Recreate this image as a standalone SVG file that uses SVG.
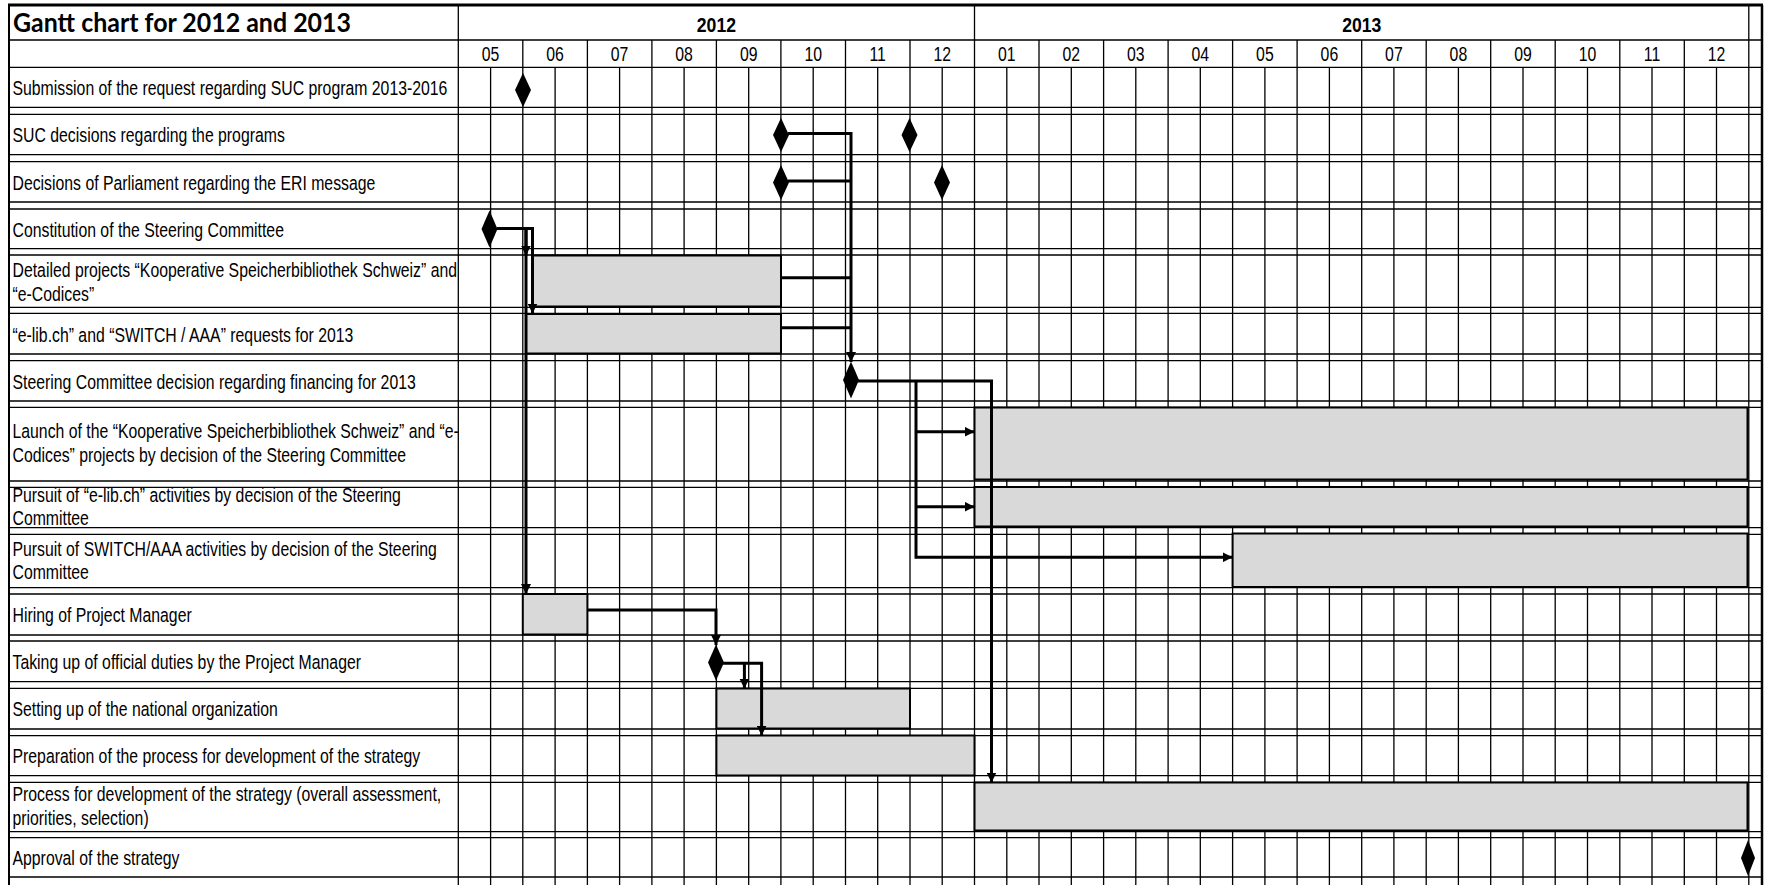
<svg xmlns="http://www.w3.org/2000/svg" width="1767" height="885" viewBox="0 0 1767 885">
<style>
.bg{fill:#fff}
.thin{fill:none;stroke:#000;stroke-width:1.3}
.border{fill:none;stroke:#000}
.t{font-family:"Liberation Sans",Arial,sans-serif;font-size:19.3px;fill:#000}
.m{font-family:"Liberation Sans",Arial,sans-serif;font-size:19.3px;fill:#000;text-anchor:middle}
.yr{font-family:"Liberation Sans",Arial,sans-serif;font-size:20px;font-weight:bold;fill:#000;text-anchor:middle}
.title{font-family:Lato,"Liberation Sans",sans-serif;font-size:26.5px;font-weight:bold;fill:#000}
.bar{fill:#d9d9d9;stroke:#000;stroke-width:2}
.ms{fill:#000}
.conn{fill:none;stroke:#000;stroke-width:3}
.arr{marker-end:url(#ah)}
</style>
<defs>
<marker id="ah" viewBox="0 0 10 10" refX="10" refY="5" markerWidth="10" markerHeight="10" markerUnits="userSpaceOnUse" orient="auto"><path d="M0,0 L10,5 L0,10 z" fill="#000"/></marker>
</defs>
<rect class="bg" x="0" y="0" width="1767" height="885"/>
<g id="grid">
<path class="thin" d="M490.6 67.3V885M555.1 67.3V885M619.6 67.3V885M684.1 67.3V885M748.7 67.3V885M813.2 67.3V885M877.7 67.3V885M942.2 67.3V885M1006.8 67.3V885M1071.3 67.3V885M1135.8 67.3V885M1200.3 67.3V885M1264.9 67.3V885M1329.4 67.3V885M1393.9 67.3V885M1458.4 67.3V885M1523 67.3V885M1587.5 67.3V885M1652 67.3V885M1716.5 67.3V885"/>
<path class="thin" d="M522.8 40V885M587.4 40V885M651.9 40V885M716.4 40V885M780.9 40V885M845.5 40V885M910 40V885M1039 40V885M1103.6 40V885M1168.1 40V885M1232.6 40V885M1297.1 40V885M1361.7 40V885M1426.2 40V885M1490.7 40V885M1555.2 40V885M1619.8 40V885M1684.3 40V885"/>
<path class="thin" d="M458.3 5V885M974.5 5V885M1748.8 5V885"/>
<path class="thin" d="M9 40H1762M9 67.3H1762M9 107.3H1762M9 114.3H1762M9 154.7H1762M9 161.7H1762M9 202H1762M9 209H1762M9 248.7H1762M9 255H1762M9 307.3H1762M9 313.3H1762M9 354H1762M9 360.7H1762M9 401H1762M9 407.3H1762M9 481H1762M9 487.3H1762M9 527.7H1762M9 534.3H1762M9 587.7H1762M9 594H1762M9 635H1762M9 641H1762M9 681.7H1762M9 688.3H1762M9 729H1762M9 735.7H1762M9 775.7H1762M9 782.3H1762M9 831.7H1762M9 837.7H1762M9 877H1762"/>
<path class="border" stroke-width="3" d="M8 5H1763"/>
<path class="border" stroke-width="2" d="M9 5V885"/>
<path class="border" stroke-width="2.5" d="M1762 5V885"/>
</g>
<g id="header">
<text class="title" x="13" y="31.5" textLength="338" lengthAdjust="spacingAndGlyphs">Gantt chart for 2012 and 2013</text>
<text class="yr" transform="translate(716.4 31.5) scale(0.88 1)">2012</text>
<text class="yr" transform="translate(1361.7 31.5) scale(0.88 1)">2013</text>
<text class="m" transform="translate(490.6 61) scale(0.82 1)">05</text>
<text class="m" transform="translate(555.1 61) scale(0.82 1)">06</text>
<text class="m" transform="translate(619.6 61) scale(0.82 1)">07</text>
<text class="m" transform="translate(684.1 61) scale(0.82 1)">08</text>
<text class="m" transform="translate(748.7 61) scale(0.82 1)">09</text>
<text class="m" transform="translate(813.2 61) scale(0.82 1)">10</text>
<text class="m" transform="translate(877.7 61) scale(0.82 1)">11</text>
<text class="m" transform="translate(942.2 61) scale(0.82 1)">12</text>
<text class="m" transform="translate(1006.8 61) scale(0.82 1)">01</text>
<text class="m" transform="translate(1071.3 61) scale(0.82 1)">02</text>
<text class="m" transform="translate(1135.8 61) scale(0.82 1)">03</text>
<text class="m" transform="translate(1200.3 61) scale(0.82 1)">04</text>
<text class="m" transform="translate(1264.9 61) scale(0.82 1)">05</text>
<text class="m" transform="translate(1329.4 61) scale(0.82 1)">06</text>
<text class="m" transform="translate(1393.9 61) scale(0.82 1)">07</text>
<text class="m" transform="translate(1458.4 61) scale(0.82 1)">08</text>
<text class="m" transform="translate(1523 61) scale(0.82 1)">09</text>
<text class="m" transform="translate(1587.5 61) scale(0.82 1)">10</text>
<text class="m" transform="translate(1652 61) scale(0.82 1)">11</text>
<text class="m" transform="translate(1716.5 61) scale(0.82 1)">12</text>
</g>
<g id="task01">
<text class="t" transform="translate(12.5 95) scale(0.82 1)">Submission of the request regarding SUC program 2013-2016</text>
<polygon class="ms" points="523,73 531,90 523,107 515,90"/>
</g>
<g id="task02">
<text class="t" transform="translate(12.5 142) scale(0.82 1)">SUC decisions regarding the programs</text>
<polygon class="ms" points="781,118 789,135 781,152 773,135"/>
<polygon class="ms" points="909.5,118 917.5,135 909.5,152 901.5,135"/>
</g>
<g id="task03">
<text class="t" transform="translate(12.5 189.5) scale(0.82 1)">Decisions of Parliament regarding the ERI message</text>
<polygon class="ms" points="781,165 789,182.5 781,200 773,182.5"/>
<polygon class="ms" points="942,165 950,182.5 942,200 934,182.5"/>
</g>
<g id="task04">
<text class="t" transform="translate(12.5 236.5) scale(0.82 1)">Constitution of the Steering Committee</text>
<polygon class="ms" points="489.5,210.5 497.5,229 489.5,247.5 481.5,229"/>
</g>
<g id="task05">
<text class="t" transform="translate(12.5 277) scale(0.82 1)">Detailed projects “Kooperative Speicherbibliothek Schweiz” and</text>
<text class="t" transform="translate(12.5 300.5) scale(0.82 1)">“e-Codices”</text>
<rect class="bar" x="532" y="255.5" width="249" height="51"/>
</g>
<g id="task06">
<text class="t" transform="translate(12.5 341.5) scale(0.82 1)">“e-lib.ch” and “SWITCH / AAA” requests for 2013</text>
<rect class="bar" x="526" y="314" width="255" height="39.5"/>
</g>
<g id="task07">
<text class="t" transform="translate(12.5 388.5) scale(0.82 1)">Steering Committee decision regarding financing for 2013</text>
<polygon class="ms" points="851,361.5 859,380 851,398.5 843,380"/>
</g>
<g id="task08">
<text class="t" transform="translate(12.5 438) scale(0.82 1)">Launch of the “Kooperative Speicherbibliothek Schweiz” and “e-</text>
<text class="t" transform="translate(12.5 461.7) scale(0.82 1)">Codices” projects by decision of the Steering Committee</text>
<rect class="bar" x="974.5" y="407.5" width="773" height="72"/>
</g>
<g id="task09">
<text class="t" transform="translate(12.5 501.7) scale(0.82 1)">Pursuit of “e-lib.ch” activities by decision of the Steering</text>
<text class="t" transform="translate(12.5 525) scale(0.82 1)">Committee</text>
<rect class="bar" x="974.5" y="487" width="773" height="39.5"/>
</g>
<g id="task10">
<text class="t" transform="translate(12.5 555.5) scale(0.82 1)">Pursuit of SWITCH/AAA activities by decision of the Steering</text>
<text class="t" transform="translate(12.5 579) scale(0.82 1)">Committee</text>
<rect class="bar" x="1232.6" y="533.5" width="514.9" height="53.5"/>
</g>
<g id="task11">
<text class="t" transform="translate(12.5 622) scale(0.82 1)">Hiring of Project Manager</text>
<rect class="bar" x="522.8" y="594" width="64.6" height="40.5"/>
</g>
<g id="task12">
<text class="t" transform="translate(12.5 669) scale(0.82 1)">Taking up of official duties by the Project Manager</text>
<polygon class="ms" points="716,644.5 724,662.5 716,680.5 708,662.5"/>
</g>
<g id="task13">
<text class="t" transform="translate(12.5 716.4) scale(0.82 1)">Setting up of the national organization</text>
<rect class="bar" x="716.4" y="688.5" width="193.6" height="40"/>
</g>
<g id="task14">
<text class="t" transform="translate(12.5 763.4) scale(0.82 1)">Preparation of the process for development of the strategy</text>
<rect class="bar" x="716.4" y="735.5" width="258.1" height="40"/>
</g>
<g id="task15">
<text class="t" transform="translate(12.5 801) scale(0.82 1)">Process for development of the strategy (overall assessment,</text>
<text class="t" transform="translate(12.5 824.7) scale(0.82 1)">priorities, selection)</text>
<rect class="bar" x="974.5" y="782.5" width="773" height="48"/>
</g>
<g id="task16">
<text class="t" transform="translate(12.5 865) scale(0.82 1)">Approval of the strategy</text>
<polygon class="ms" points="1748,840 1755,858 1748,876 1741,858"/>
</g>
<g id="connectors">
<path class="conn arr" d="M788 133.5H851V362"/>
<path class="conn" d="M788 181H851"/>
<path class="conn" d="M781 277.7H851"/>
<path class="conn" d="M781 327.7H851"/>
<path class="conn arr" d="M497 228.5H532.5V313.5"/>
<path class="conn arr" d="M526 228.5V594"/>
<path class="conn arr" d="M526 228.5V255.5"/>
<path class="conn arr" d="M858 381H991.5V782.5"/>
<path class="conn arr" d="M916 381V557.3H1232.6"/>
<path class="conn arr" d="M916 431.7H974.5"/>
<path class="conn arr" d="M916 506.7H974.5"/>
<path class="conn arr" d="M587.4 610H716V645"/>
<path class="conn arr" d="M723 663.3H761.6V735.5"/>
<path class="conn arr" d="M744.4 663.3V688.5"/>
</g>
</svg>
